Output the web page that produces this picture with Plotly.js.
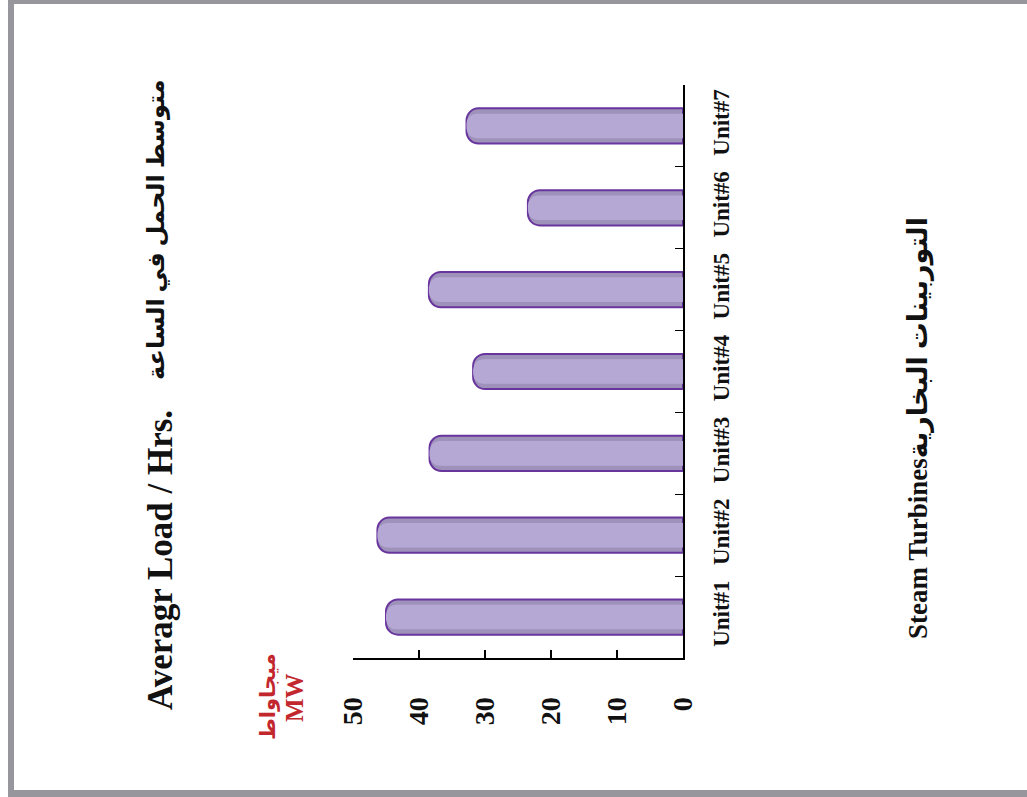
<!DOCTYPE html>
<html>
<head>
<meta charset="utf-8">
<script src="https://cdn.plot.ly/plotly-3.0.1.min.js"></script>
<style>
html,body{margin:0;padding:0;background:#fff;}
#chart{width:1027px;height:797px;}
</style>
</head>
<body>
<div id="chart"></div>
<script>
// ---- data ----
const units = ["Unit#1", "Unit#2", "Unit#3", "Unit#4", "Unit#5", "Unit#6", "Unit#7"];
const avgLoad = [45, 46.3, 38.4, 31.8, 38.5, 23.5, 32.8];
const valueTicks = [0, 10, 20, 30, 40, 50];

const titleEn = "Averagr Load / Hrs.";
const titleAr = "متوسط الحمل في الساعة";
const unitAr = "ميجاواط";
const unitEn = "MW";
const catTitle = "Steam Turbinesالتوربينات البخارية";

// ---- layout geometry ----
const W = 1027, H = 797;
const M = {l: 353, r: 344, t: 85, b: 139};
const PW = W - M.l - M.r, PH = H - M.t - M.b;
const fx = px => (px - M.l) / PW;
const fy = py => (H - M.b - py) / PH;

const serif = "Liberation Serif, Times New Roman, DejaVu Serif, DejaVu Sans, serif";
const red = "#c3272e";

const outer = {
  type: "bar", orientation: "h",
  x: avgLoad, y: units, width: 0.43,
  marker: {color: "rgb(158,146,186)", line: {color: "rgb(104,52,158)", width: 2}, cornerradius: 12},
  hoverinfo: "x+y", showlegend: false
};
const inner = {
  type: "bar", orientation: "h",
  x: avgLoad, y: units, width: 0.3,
  marker: {color: "rgb(182,168,212)", line: {width: 0}, cornerradius: 10},
  hoverinfo: "skip", showlegend: false
};

function ann(text, px, py, size, color, family, bold) {
  return {
    text: text, xref: "paper", yref: "paper", x: fx(px), y: fy(py),
    xanchor: "center", yanchor: "middle", showarrow: false, textangle: -90,
    font: {size: size, color: color, family: family, weight: bold ? 700 : 400}
  };
}

const gray = "rgb(150,150,156)";
function rectPx(x0, y0, x1, y1) {
  return {type: "rect", xref: "paper", yref: "paper",
    x0: fx(x0), x1: fx(x1), y0: fy(y0), y1: fy(y1),
    fillcolor: gray, line: {width: 0}, layer: "above"};
}

const layout = {
  width: W, height: H,
  margin: M,
  paper_bgcolor: "#ffffff", plot_bgcolor: "#ffffff",
  barmode: "overlay",
  xaxis: {
    range: [50, 0], tickvals: valueTicks, ticktext: valueTicks.map(String),
    showgrid: false, zeroline: false,
    showline: true, linecolor: "#000", linewidth: 2,
    ticks: "inside", ticklen: 8, tickcolor: "#000", tickwidth: 1.5,
    tickangle: -90, ticklabelstandoff: 26,
    tickfont: {family: serif, size: 28, color: "#111", weight: 700},
    fixedrange: true
  },
  yaxis: {
    type: "category", categoryorder: "array", categoryarray: units,
    side: "right", showgrid: false, zeroline: false,
    showline: true, linecolor: "#000", linewidth: 2,
    ticks: "inside", tickson: "boundaries", ticklen: 8, tickcolor: "#000",
    tickangle: -90, ticklabelstandoff: 16,
    tickfont: {family: serif, size: 23, color: "#111", weight: 700},
    fixedrange: true
  },
  annotations: [
    ann(titleEn, 160, 560, 35, "#111", serif, true),
    ann(titleAr, 156, 230, 24, "#111", serif, true),
    ann(unitAr, 268, 697, 21, red, serif, true),
    ann(unitEn, 294, 698, 25, red, serif, true),
    ann(catTitle, 918, 428, 27, "#111", serif, true)
  ],
  shapes: [
    rectPx(8, 0, 14, 797),
    rectPx(8, 0, 1027, 4),
    rectPx(8, 790, 1027, 797)
  ]
};

Plotly.newPlot("chart", [outer, inner], layout, {displayModeBar: false, staticPlot: true});
</script>
</body>
</html>
